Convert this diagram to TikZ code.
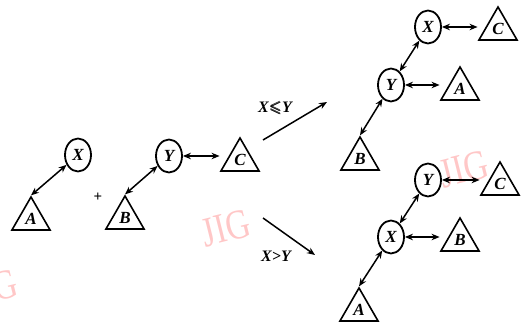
\documentclass[tikz,border=0pt]{standalone}
\usepackage{amssymb}
\usepackage{bm}
\usepackage{fontspec}
\setmainfont{Liberation Serif}
\usetikzlibrary{arrows.meta,shapes.geometric}

\newcommand{\jig}{\scalebox{0.8}[1]{JIG}}

\begin{document}
\begin{tikzpicture}[
            x=1pt, y=-1pt,
            >={Stealth[length=8pt,width=6.5pt]},
            key_node/.style={ellipse, draw, line width=1.8pt, minimum width=26pt, minimum height=33pt, inner sep=0pt, font=\fontsize{17}{17}\selectfont\bfseries\itshape},
            sub_tree/.style={regular polygon, regular polygon sides=3, draw, line width=1.6pt, minimum size=44pt, inner sep=0pt, font=\fontsize{17}{17}\selectfont\bfseries\itshape},
            link/.style={<->, line width=1.5pt},
            step_arrow/.style={->, line width=1.5pt},
            cond_label/.style={font=\fontsize{16}{16}\selectfont\bfseries\itshape},
            stamp/.style={red!22, font=\fontsize{42}{42}\selectfont, inner sep=0pt}
        ]

        \useasboundingbox (0,0) rectangle (525,328);

        % Watermarks
        \node[stamp, rotate=14] (w1) at (226,228) {\jig};
        \node[stamp, rotate=14] (w2) at (464,169) {\jig};
        \node[stamp, anchor=east, rotate=14] (w3) at (17,282) {\jig};

        % Left: the two trees to be joined
        \node[key_node] (X1) at (78,155) {X};
        \node[sub_tree] (A1) at (31,219) {A};
        \draw[link] (X1) -- (A1.corner 1);

        \node[font=\fontsize{15}{15}\selectfont\bfseries] (plus) at (98,197) {+};

        \node[key_node] (Y1) at (169,156) {Y};
        \node[sub_tree] (B1) at (125,218) {B};
        \node[sub_tree] (C1) at (240,160) {C};
        \draw[link] (Y1) -- (B1.corner 1);
        \draw[link] (Y1.east) -- (Y1.east -| C1.corner 2);

        % The two cases
        \coordinate (up_from) at (263,140);
        \coordinate (up_to) at (327,102);
        \coordinate (dn_from) at (263,218);
        \coordinate (dn_to) at (315,255);
        \draw[step_arrow] (up_from) -- (up_to);
        \draw[step_arrow] (dn_from) -- (dn_to);
        \node[cond_label] (le) at (275,108) {X$\bm{\leqslant}$Y};
        \node[cond_label] (gt) at (276,256) {X>Y};

        % Result for X <= Y
        \node[key_node] (X2) at (428,27) {X};
        \node[sub_tree] (C2) at (498,29) {C};
        \node[key_node] (Y2) at (391,85) {Y};
        \node[sub_tree] (A2) at (460,89) {A};
        \node[sub_tree] (B2) at (360,159) {B};
        \draw[link] (X2.east) -- (X2.east -| C2.corner 2);
        \draw[link] (X2) -- (Y2);
        \draw[link] (Y2.east) -- (Y2.east -| A2.corner 2);
        \draw[link] (Y2) -- (B2.corner 1);

        % Result for X > Y
        \node[key_node] (Y3) at (428,180) {Y};
        \node[sub_tree] (C3) at (500,184) {C};
        \node[key_node] (X3) at (391,237) {X};
        \node[sub_tree] (B3) at (460,240) {B};
        \node[sub_tree] (A3) at (359,310) {A};
        \draw[link] (Y3.east) -- (Y3.east -| C3.corner 2);
        \draw[link] (Y3) -- (X3);
        \draw[link] (X3.east) -- (X3.east -| B3.corner 2);
        \draw[link] (X3) -- (A3.corner 1);

    \end{tikzpicture}
\end{document}
